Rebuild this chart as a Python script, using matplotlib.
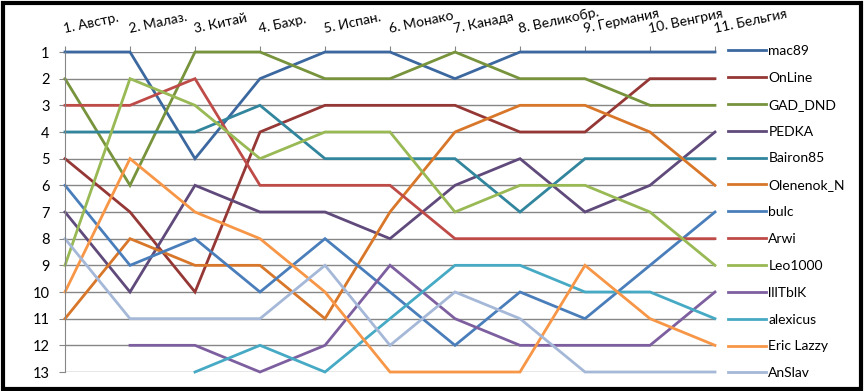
import matplotlib.pyplot as plt
from matplotlib.patches import Rectangle

plt.rcParams['font.family'] = ['Lato', 'DejaVu Sans']

races = ['1. Австр.', '2. Малаз.', '3. Китай', '4. Бахр.', '5. Испан.', '6. Монако',
         '7. Канада', '8. Великобр.', '9. Германия', '10. Венгрия', '11. Бельгия']

mac89 = [1, 1, 5, 2, 1, 1, 2, 1, 1, 1, 1]
online = [5, 7, 10, 4, 3, 3, 3, 4, 4, 2, 2]
gad_dnd = [2, 6, 1, 1, 2, 2, 1, 2, 2, 3, 3]
pedka = [7, 10, 6, 7, 7, 8, 6, 5, 7, 6, 4]
bairon85 = [4, 4, 4, 3, 5, 5, 5, 7, 5, 5, 5]
olenenok_n = [11, 8, 9, 9, 11, 7, 4, 3, 3, 4, 6]
bulc = [6, 9, 8, 10, 8, 10, 12, 10, 11, 9, 7]
arwi = [3, 3, 2, 6, 6, 6, 8, 8, 8, 8, 8]
leo1000 = [9, 2, 3, 5, 4, 4, 7, 6, 6, 7, 9]
llltblk = [None, 12, 12, 13, 12, 9, 11, 12, 12, 12, 10]
alexicus = [None, None, 13, 12, 13, 11, 9, 9, 10, 10, 11]
eric_lazzy = [10, 5, 7, 8, 10, 13, 13, 13, 9, 11, 12]
anslav = [8, 11, 11, 11, 9, 12, 10, 11, 13, 13, 13]

names = ['mac89', 'OnLine', 'GAD_DND', 'PEDKA', 'Bairon85', 'Olenenok_N', 'bulc',
         'Arwi', 'Leo1000', 'lllTblK', 'alexicus', 'Eric Lazzy', 'AnSlav']
series = [mac89, online, gad_dnd, pedka, bairon85, olenenok_n, bulc,
          arwi, leo1000, llltblk, alexicus, eric_lazzy, anslav]
colors = ['#3C68A0', '#953735', '#77933C', '#604A7B', '#31859C', '#D8772A', '#4A7EBB',
          '#BE4B48', '#98B954', '#7D5FA0', '#46AAC5', '#F79646', '#A5B8D8']

fig = plt.figure(figsize=(8.66, 3.91), dpi=100)
ax = fig.add_axes((65 / 866, 1 - 372 / 391, 650 / 866, 320 / 391))

x = list(range(len(races)))
for name, vals, c in zip(names, series, colors):
    xs = [i for i, v in zip(x, vals) if v is not None]
    ys = [v for v in vals if v is not None]
    ax.plot(xs, ys, color=c, lw=2.0, label=name, clip_on=False, solid_joinstyle='miter')

ax.set_xlim(0, 10)
ax.set_ylim(13, 1)
ax.set_yticks(range(1, 14))
ax.tick_params(axis='y', length=4, color='#868686', labelsize=10.5, pad=7)
ax.xaxis.tick_top()
ax.set_xticks(x)
ax.set_xticklabels(races, rotation=12, ha='left', va='bottom', rotation_mode='anchor', fontsize=10)
ax.tick_params(axis='x', length=4, color='#868686', pad=8)
ax.yaxis.grid(True, color='#868686', lw=1)
ax.set_axisbelow(True)
for side in ['right', 'bottom', 'top']:
    ax.spines[side].set_visible(False)
ax.spines['left'].set_color('#868686')

ax.legend(loc='upper left', bbox_to_anchor=(728 / 866, 1 - 45 / 391), bbox_transform=fig.transFigure,
          frameon=False, fontsize=10, handlelength=2.7, handletextpad=0.2,
          labelspacing=1.07, borderpad=0, borderaxespad=0)

fig.patches.append(Rectangle((3 / 866, 2 / 391), 858 / 866, 386 / 391, transform=fig.transFigure,
                             fill=False, ec='black', lw=3))

fig.savefig('out.png', dpi=100)
